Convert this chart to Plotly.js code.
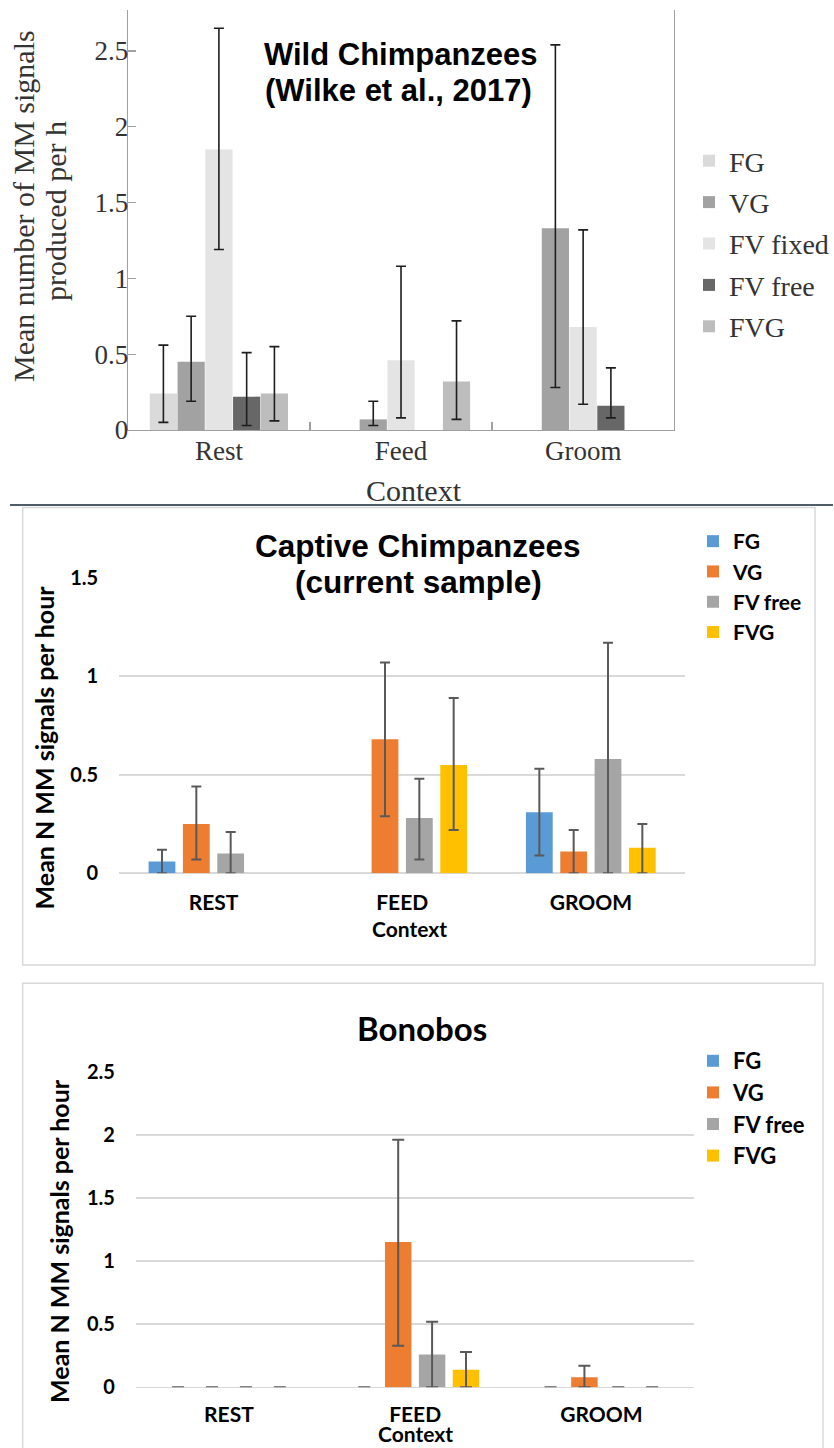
<!DOCTYPE html>
<html>
<head>
<meta charset="utf-8">
<script src="https://cdn.plot.ly/plotly-3.0.1.min.js"></script>
<style>
  html, body { margin: 0; padding: 0; background: #ffffff; }
  #chart { width: 834px; height: 1448px; }
</style>
</head>
<body>
<div id="chart"></div>
<script>
// ---------- Wild chimpanzees (Wilke et al., 2017) ----------
const wildContexts = ['Rest', 'Feed', 'Groom'];
const wildSeries = ['FG', 'VG', 'FV fixed', 'FV free', 'FVG'];
const wildFG      = [0.24, null, null];
const wildFGLow   = [0.05, null, null];
const wildFGHigh  = [0.56, null, null];
const wildVG      = [0.45, 0.07, 1.33];
const wildVGLow   = [0.19, 0.03, 0.28];
const wildVGHigh  = [0.75, 0.19, 2.54];
const wildFVfix     = [1.85, 0.46, 0.68];
const wildFVfixLow  = [1.19, 0.08, 0.17];
const wildFVfixHigh = [2.65, 1.08, 1.32];
const wildFVfree     = [0.22, null, 0.16];
const wildFVfreeLow  = [0.03, null, 0.08];
const wildFVfreeHigh = [0.51, null, 0.41];
const wildFVG     = [0.24, 0.32, null];
const wildFVGLow  = [0.06, 0.07, null];
const wildFVGHigh = [0.55, 0.72, null];

// ---------- Captive chimpanzees (current sample) ----------
const contexts = ['REST', 'FEED', 'GROOM'];
const groupSeries = ['FG', 'VG', 'FV free', 'FVG'];
const capFG      = [0.06, 0, 0.31];
const capFGLow   = [0, null, 0.09];
const capFGHigh  = [0.12, null, 0.53];
const capVG      = [0.25, 0.68, 0.11];
const capVGLow   = [0.07, 0.29, 0];
const capVGHigh  = [0.44, 1.07, 0.22];
const capFVfree     = [0.10, 0.28, 0.58];
const capFVfreeLow  = [0, 0.07, 0];
const capFVfreeHigh = [0.21, 0.48, 1.17];
const capFVG     = [0, 0.55, 0.13];
const capFVGLow  = [null, 0.22, 0];
const capFVGHigh = [null, 0.89, 0.25];

// ---------- Bonobos ----------
const bonFG      = [0, 0, 0];
const bonFGLow   = [0, 0, 0];
const bonFGHigh  = [0, 0, 0];
const bonVG      = [0, 1.15, 0.08];
const bonVGLow   = [0, 0.33, 0];
const bonVGHigh  = [0, 1.96, 0.17];
const bonFVfree     = [0, 0.26, 0];
const bonFVfreeLow  = [0, 0, 0];
const bonFVfreeHigh = [0, 0.52, 0];
const bonFVG     = [0, 0.14, 0];
const bonFVGLow  = [0, 0, 0];
const bonFVGHigh = [0, 0.28, 0];

// ---------- page geometry helpers (pixels -> paper fractions) ----------
const W = 834, H = 1448;
const px = v => v / W;
const py = v => 1 - v / H;

const SERIF = 'Liberation Serif, Times New Roman, serif';
const ARIAL = 'Liberation Sans, Arial, sans-serif';
const CALI  = 'Lato, Open Sans, sans-serif';

// asymmetric error bars from lower / upper bounds
function errorBars(vals, low, high, color, thickness, width) {
  return {
    type: 'data', symmetric: false, visible: true,
    array: high.map((h, i) => (h === null || vals[i] === null) ? NaN : h - vals[i]),
    arrayminus: low.map((l, i) => (l === null || vals[i] === null) ? NaN : vals[i] - l),
    color: color, thickness: thickness, width: width
  };
}

const traces = [];

// Wild panel: five contiguous bars per context
const wildVals  = [wildFG, wildVG, wildFVfix, wildFVfree, wildFVG];
const wildLows  = [wildFGLow, wildVGLow, wildFVfixLow, wildFVfreeLow, wildFVGLow];
const wildHighs = [wildFGHigh, wildVGHigh, wildFVfixHigh, wildFVfreeHigh, wildFVGHigh];
const wildColors = ['#dadada', '#a2a2a2', '#e4e4e4', '#676767', '#bdbdbd'];
const wildGroup = 0.762;              // share of a category taken by the group
const wildSlot = wildGroup / wildSeries.length;
const wildBar = wildSlot * 0.98;
wildSeries.forEach((name, i) => {
  traces.push({
    type: 'bar', name: name, x: wildContexts, y: wildVals[i],
    xaxis: 'x', yaxis: 'y', legend: 'legend', legendgroup: 'w' + i,
    width: wildBar, offset: -wildGroup / 2 + i * wildSlot + (wildSlot - wildBar) / 2,
    marker: { color: wildColors[i] },
    error_y: errorBars(wildVals[i], wildLows[i], wildHighs[i], '#1e1e1e', 1.6, 5),
    hoverinfo: 'x+y+name'
  });
});

// Captive and bonobo panels: Office palette
const officeColors = ['#5b9bd5', '#ed7d31', '#a5a5a5', '#ffc000'];
const capVals  = [capFG, capVG, capFVfree, capFVG];
const capLows  = [capFGLow, capVGLow, capFVfreeLow, capFVGLow];
const capHighs = [capFGHigh, capVGHigh, capFVfreeHigh, capFVGHigh];
groupSeries.forEach((name, i) => {
  traces.push({
    type: 'bar', name: name, x: contexts, y: capVals[i],
    xaxis: 'x2', yaxis: 'y2', legend: 'legend2',
    marker: { color: officeColors[i] },
    error_y: errorBars(capVals[i], capLows[i], capHighs[i], '#595959', 2, 5),
    hoverinfo: 'x+y+name'
  });
});
const bonVals  = [bonFG, bonVG, bonFVfree, bonFVG];
const bonLows  = [bonFGLow, bonVGLow, bonFVfreeLow, bonFVGLow];
const bonHighs = [bonFGHigh, bonVGHigh, bonFVfreeHigh, bonFVGHigh];
groupSeries.forEach((name, i) => {
  traces.push({
    type: 'bar', name: name, x: contexts, y: bonVals[i],
    xaxis: 'x3', yaxis: 'y3', legend: 'legend3',
    marker: { color: officeColors[i] },
    error_y: errorBars(bonVals[i], bonLows[i], bonHighs[i], '#595959', 2, 6),
    hoverinfo: 'x+y+name'
  });
});

const serifTick = { family: SERIF, size: 27, color: '#333333' };
const caliTick = { family: CALI, size: 20, color: '#000000', weight: 'bold' };
const caliCat = { family: CALI, size: 21, color: '#000000', weight: 'bold' };

const officeY = {
  showline: false, ticks: '', dtick: 0.5, tick0: 0,
  showgrid: true, gridcolor: '#d9d9d9', gridwidth: 1.6,
  zeroline: true, zerolinecolor: '#d9d9d9', zerolinewidth: 1.6,
  tickfont: caliTick, ticklabelstandoff: 20, fixedrange: true
};
const officeX = {
  type: 'category', range: [-0.5, 2.5], showline: false, ticks: '',
  showgrid: false, zeroline: false, tickfont: caliCat, ticklabelstandoff: 15, fixedrange: true
};

const layout = {
  width: W, height: H,
  margin: { l: 0, r: 0, t: 0, b: 0 },
  paper_bgcolor: '#ffffff', plot_bgcolor: 'rgba(0,0,0,0)',
  barmode: 'group', bargap: 0.272, bargroupgap: 0.22,
  showlegend: true,
  xaxis: {
    domain: [px(128), px(675)], anchor: 'y', type: 'category', range: [-0.5, 2.5],
    showline: true, linecolor: '#a0a0a0', linewidth: 1.3,
    ticks: 'inside', tickson: 'boundaries', ticklen: 8, tickcolor: '#a0a0a0', tickwidth: 1.3,
    showgrid: false, zeroline: false, tickfont: serifTick, ticklabelstandoff: -4, fixedrange: true
  },
  yaxis: {
    domain: [py(430), py(10)], anchor: 'x', range: [0, 2.77], dtick: 0.5, tick0: 0,
    showline: true, mirror: true, linecolor: '#a0a0a0', linewidth: 1.3,
    ticks: 'inside', ticklen: 8, tickcolor: '#a0a0a0', tickwidth: 1.3,
    showgrid: false, zeroline: false, tickfont: serifTick, ticklabelstandoff: -7, fixedrange: true
  },
  xaxis2: Object.assign({}, officeX, { domain: [px(119.3), px(686)], anchor: 'y2' }),
  yaxis2: Object.assign({}, officeY, { domain: [py(873.3), py(577.7)], anchor: 'x2', range: [0, 1.5] }),
  xaxis3: Object.assign({}, officeX, { domain: [px(136), px(695.3)], anchor: 'y3', ticklabelstandoff: 13 }),
  yaxis3: Object.assign({}, officeY, { domain: [py(1387.3), py(1071.7)], anchor: 'x3', range: [0, 2.5] }),
  legend: {
    x: px(690), xanchor: 'left', y: py(136), yanchor: 'top',
    bgcolor: 'rgba(0,0,0,0)', borderwidth: 0, traceorder: 'grouped', tracegroupgap: 2,
    font: { family: SERIF, size: 28, color: '#333333' }
  },
  legend2: {
    x: px(693), xanchor: 'left', y: py(521), yanchor: 'top',
    bgcolor: 'rgba(0,0,0,0)', borderwidth: 0, traceorder: 'normal',
    font: { family: CALI, size: 21, color: '#000000', weight: 'bold' }
  },
  legend3: {
    x: px(693), xanchor: 'left', y: py(1040), yanchor: 'top',
    bgcolor: 'rgba(0,0,0,0)', borderwidth: 0, traceorder: 'normal',
    font: { family: CALI, size: 22, color: '#000000', weight: 'bold' }
  },
  shapes: [
    // divider under the first chart
    { type: 'line', xref: 'paper', yref: 'paper', x0: px(10), x1: px(834), y0: py(505), y1: py(505),
      line: { color: '#4f5d68', width: 2 } },
    // frame of the captive chart
    { type: 'rect', xref: 'paper', yref: 'paper', x0: px(22.7), x1: px(816), y0: py(965), y1: py(507.5),
      line: { color: '#d9d9d9', width: 1.5 }, fillcolor: 'rgba(0,0,0,0)' },
    // frame of the bonobo chart (runs off the bottom edge)
    { type: 'rect', xref: 'paper', yref: 'paper', x0: px(22.7), x1: px(824), y0: py(1460), y1: py(983.3),
      line: { color: '#d9d9d9', width: 1.5 }, fillcolor: 'rgba(0,0,0,0)' }
  ],
  annotations: [
    // wild chart titles
    { text: 'Wild Chimpanzees', x: px(401), y: py(55), xref: 'paper', yref: 'paper', showarrow: false,
      xanchor: 'center', yanchor: 'middle', font: { family: ARIAL, size: 31, color: '#000', weight: 'bold' } },
    { text: '(Wilke et al., 2017)', x: px(399), y: py(90), xref: 'paper', yref: 'paper', showarrow: false,
      xanchor: 'center', yanchor: 'middle', font: { family: ARIAL, size: 31, color: '#000', weight: 'bold' } },
    { text: 'Mean number of MM signals', x: px(23), y: py(206), xref: 'paper', yref: 'paper', showarrow: false,
      textangle: -90, xanchor: 'center', yanchor: 'middle', font: { family: SERIF, size: 30, color: '#333333' } },
    { text: 'produced per h', x: px(56), y: py(211), xref: 'paper', yref: 'paper', showarrow: false,
      textangle: -90, xanchor: 'center', yanchor: 'middle', font: { family: SERIF, size: 30, color: '#333333' } },
    { text: 'Context', x: px(414), y: py(490), xref: 'paper', yref: 'paper', showarrow: false,
      xanchor: 'center', yanchor: 'middle', font: { family: SERIF, size: 30, color: '#333333' } },

    // captive chart titles
    { text: 'Captive Chimpanzees', x: px(419), y: py(546), xref: 'paper', yref: 'paper', showarrow: false,
      xanchor: 'center', yanchor: 'middle', font: { family: ARIAL, size: 31.5, color: '#000', weight: 'bold' } },
    { text: '(current sample)', x: px(419), y: py(582), xref: 'paper', yref: 'paper', showarrow: false,
      xanchor: 'center', yanchor: 'middle', font: { family: ARIAL, size: 31.5, color: '#000', weight: 'bold' } },
    { text: 'Mean N MM signals per hour', x: px(44), y: py(747.5), xref: 'paper', yref: 'paper', showarrow: false,
      textangle: -90, xanchor: 'center', yanchor: 'middle', font: { family: CALI, size: 25, color: '#000', weight: 'bold' } },
    { text: 'Context', x: px(409.5), y: py(928), xref: 'paper', yref: 'paper', showarrow: false,
      xanchor: 'center', yanchor: 'middle', font: { family: CALI, size: 21, color: '#000', weight: 'bold' } },

    // bonobo chart titles
    { text: 'Bonobos', x: px(423), y: py(1027.5), xref: 'paper', yref: 'paper', showarrow: false,
      xanchor: 'center', yanchor: 'middle', font: { family: CALI, size: 33, color: '#000', weight: 'bold' } },
    { text: 'Mean N MM signals per hour', x: px(59), y: py(1241), xref: 'paper', yref: 'paper', showarrow: false,
      textangle: -90, xanchor: 'center', yanchor: 'middle', font: { family: CALI, size: 25, color: '#000', weight: 'bold' } },
    { text: 'Context', x: px(415.5), y: py(1433.5), xref: 'paper', yref: 'paper', showarrow: false,
      xanchor: 'center', yanchor: 'middle', font: { family: CALI, size: 21, color: '#000', weight: 'bold' } }
  ]
};

Plotly.newPlot('chart', traces, layout, { displayModeBar: false, staticPlot: true });
</script>
</body>
</html>
